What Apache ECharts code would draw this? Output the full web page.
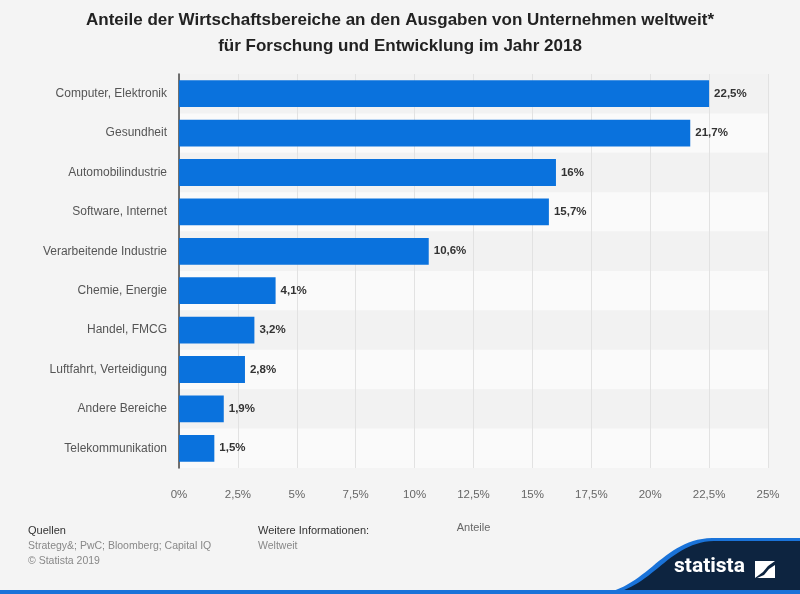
<!DOCTYPE html>
<html>
<head>
<meta charset="utf-8">
<script src="https://cdn.jsdelivr.net/npm/echarts@6/dist/echarts.min.js"></script>
<style>
  html, body { margin: 0; padding: 0; background: #f4f4f4; }
  #chart { width: 800px; height: 594px; }
</style>
</head>
<body>
<div id="chart"></div>
<script>
// Daten
let categories = ['Computer, Elektronik', 'Gesundheit', 'Automobilindustrie', 'Software, Internet',
    'Verarbeitende Industrie', 'Chemie, Energie', 'Handel, FMCG', 'Luftfahrt, Verteidigung',
    'Andere Bereiche', 'Telekommunikation'];
let shares = [22.5, 21.7, 16, 15.7, 10.6, 4.1, 3.2, 2.8, 1.9, 1.5];
let tickStep = 2.5;
let tickMax = 25;

let fmt = function (v) { return String(v).replace('.', ',') + '%'; };

// Kurve fuer das Logo-Feld (kubische Bezier als Polygon)
function logoShape(x0, y0, c1x, c1y, c2x, c2y, x1, y1) {
    let pts = [];
    for (let i = 0; i <= 30; i++) {
        let t = i / 30, u = 1 - t;
        pts.push([
            u * u * u * x0 + 3 * u * u * t * c1x + 3 * u * t * t * c2x + t * t * t * x1,
            u * u * u * y0 + 3 * u * u * t * c1y + 3 * u * t * t * c2y + t * t * t * y1
        ]);
    }
    pts.push([800, y1], [800, 594]);
    return pts;
}

let chart = echarts.init(document.getElementById('chart'));

let footFont = 'Liberation Sans, Arial, sans-serif';

let option = {
    backgroundColor: '#f4f4f4',
    animation: false,
    textStyle: { fontFamily: 'Liberation Sans, Arial, sans-serif' },
    title: {
        text: 'Anteile der Wirtschaftsbereiche an den Ausgaben von Unternehmen weltweit*\nfür Forschung und Entwicklung im Jahr 2018',
        left: 'center',
        top: 2,
        textStyle: { fontSize: 17, fontWeight: 'bold', color: '#222', lineHeight: 26 }
    },
    grid: { left: 179, right: 32, top: 74, height: 394 },
    xAxis: {
        type: 'value',
        min: 0,
        max: tickMax,
        interval: tickStep,
        name: 'Anteile',
        nameLocation: 'middle',
        nameGap: 54,
        nameTextStyle: { color: '#666', fontSize: 11 },
        axisLine: { show: false },
        axisTick: { show: false },
        axisLabel: { color: '#666', fontSize: 11.5, margin: 21, formatter: fmt },
        splitLine: { show: true, lineStyle: { color: '#e2e2e2', width: 1 } }
    },
    yAxis: {
        type: 'category',
        data: categories,
        inverse: true,
        axisLine: { show: true, lineStyle: { color: '#444', width: 1.5 } },
        axisTick: { show: false },
        axisLabel: { color: '#555', fontSize: 12, margin: 12 },
        splitArea: { show: true, areaStyle: { color: ['#f2f2f2', '#fafafa'] } }
    },
    series: [{
        type: 'bar',
        data: shares,
        barWidth: '68%',
        itemStyle: { color: '#0a72dd' },
        label: {
            show: true,
            position: 'right',
            distance: 5,
            color: '#333',
            fontWeight: 'bold',
            fontSize: 11.5,
            formatter: function (p) { return fmt(p.value); }
        }
    }],
    graphic: [
        { type: 'text', x: 28, y: 525, style: { text: 'Quellen', fill: '#333', fontSize: 11, fontFamily: footFont } },
        { type: 'text', x: 28, y: 541, style: { text: 'Strategy&; PwC; Bloomberg; Capital IQ', fill: '#888', fontSize: 10.5, fontFamily: footFont } },
        { type: 'text', x: 28, y: 556, style: { text: '© Statista 2019', fill: '#888', fontSize: 10.5, fontFamily: footFont } },
        { type: 'text', x: 258, y: 525, style: { text: 'Weitere Informationen:', fill: '#333', fontSize: 11, fontFamily: footFont } },
        { type: 'text', x: 258, y: 541, style: { text: 'Weltweit', fill: '#888', fontSize: 10.5, fontFamily: footFont } },
        // Logo
        { type: 'polygon', shape: { points: logoShape(592, 594, 645, 594, 660, 539, 712, 538) }, style: { fill: '#1a73d9' } },
        { type: 'polygon', shape: { points: logoShape(602, 594, 650, 594, 666, 542, 714, 541) }, style: { fill: '#0d2440' } },
        { type: 'rect', shape: { x: 0, y: 590, width: 800, height: 4 }, style: { fill: '#1a73d9' } },
        { type: 'text', x: 674, y: 556, style: { text: 'statista', fill: '#fff', fontSize: 21, fontWeight: 'bold', fontFamily: 'Roboto, Liberation Sans, Arial' } },
        { type: 'rect', shape: { x: 755, y: 561, width: 20, height: 17 }, style: { fill: '#fff' } },
        { type: 'polygon', shape: { points: [[755, 578], [763, 572], [768, 566], [775, 561], [775, 565], [769, 569], [764, 575], [757, 578]] }, style: { fill: '#0d2440' } }
    ]
};

chart.setOption(option);
</script>
</body>
</html>
